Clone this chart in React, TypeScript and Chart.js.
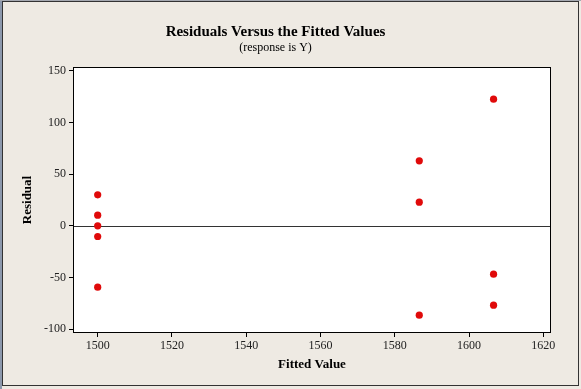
import React, { useEffect, useRef } from "react";
import { Chart, registerables } from "chart.js";

Chart.register(...registerables);

const fittedValues = [1500, 1500, 1500, 1500, 1500, 1586.6, 1586.6, 1586.6, 1606.6, 1606.6, 1606.6];
const residuals = [30, 10.3, 0, -10.3, -59.3, 62.9, 22.9, -86.4, 122.5, -46.7, -76.7];
const xTicks = [1500, 1520, 1540, 1560, 1580, 1600, 1620];
const yTicks = [-100, -50, 0, 50, 100, 150];
const xRange = [1493.35, 1622.07];
const yRange = [-103.6, 153.6];
const referenceValue = 0;

const titleText = "Residuals Versus the Fitted Values";
const subtitleText = "(response is Y)";
const xTitle = "Fitted Value";
const yTitle = "Residual";

const BG = "#EEEAE3";
const SERIF = "'Liberation Serif', 'Times New Roman', serif";

const framePlugin = {
  id: "frame",
  beforeDraw(chart: any) {
    const { ctx, width, height, chartArea } = chart;
    ctx.save();
    ctx.fillStyle = BG;
    ctx.fillRect(0, 0, width, height);
    ctx.fillStyle = "#8C98AC";
    ctx.fillRect(0, 0, 2, height);
    ctx.fillStyle = "#A4A8B0";
    ctx.fillRect(0, 0, width, 1);
    ctx.strokeStyle = "#333333";
    ctx.lineWidth = 1;
    ctx.strokeRect(2.5, 1.5, width - 5, height - 5);
    ctx.fillStyle = "#FFFFFF";
    ctx.fillRect(chartArea.left, chartArea.top, chartArea.right - chartArea.left, chartArea.bottom - chartArea.top);
    ctx.restore();
  },
  beforeDatasetsDraw(chart: any) {
    const { ctx, chartArea, scales } = chart;
    const y = Math.round(scales.y.getPixelForValue(referenceValue)) + 0.5;
    ctx.save();
    ctx.strokeStyle = "#333333";
    ctx.lineWidth = 1;
    ctx.beginPath();
    ctx.moveTo(chartArea.left, y);
    ctx.lineTo(chartArea.right, y);
    ctx.stroke();
    ctx.strokeStyle = "#000000";
    ctx.strokeRect(
      Math.round(chartArea.left) + 0.5,
      Math.round(chartArea.top) + 0.5,
      Math.round(chartArea.right - chartArea.left) - 1,
      Math.round(chartArea.bottom - chartArea.top) - 1
    );
    ctx.restore();
  },
};

const plainLabel = (v: any) => String(v);

export default function App() {
  const ref = useRef<HTMLCanvasElement | null>(null);

  useEffect(() => {
    document.body.style.margin = "0";
    const canvas = ref.current;
    if (!canvas) return;
    const chart = new Chart(canvas, {
      type: "scatter",
      data: {
        datasets: [
          {
            data: fittedValues.map((x, i) => ({ x, y: residuals[i] })),
            backgroundColor: "#E00A0A",
            borderColor: "#E00A0A",
            pointRadius: 3.6,
            borderWidth: 0,
          },
        ],
      },
      options: {
        responsive: false,
        animation: false,
        devicePixelRatio: 1,
        layout: { padding: { left: 0, right: 30, top: 0, bottom: 0 } },
        plugins: {
          legend: { display: false },
          tooltip: { enabled: false },
          title: {
            display: true,
            text: titleText,
            color: "#000",
            font: { family: SERIF, size: 15, weight: "bold" },
            padding: { top: 23, bottom: 0 },
          },
          subtitle: {
            display: true,
            text: subtitleText,
            color: "#000",
            font: { family: SERIF, size: 12 },
            padding: { top: 0, bottom: 11.6 },
          },
        },
        scales: {
          x: {
            type: "linear",
            min: xRange[0],
            max: xRange[1],
            afterFit(scale: any) {
              scale.height = 56;
            },
            afterBuildTicks(scale: any) {
              scale.ticks = xTicks.map((v) => ({ value: v }));
            },
            ticks: {
              color: "#222",
              font: { family: SERIF, size: 12 },
              padding: 2,
              maxRotation: 0,
              autoSkip: false,
              callback: plainLabel,
            },
            grid: { drawOnChartArea: false, drawTicks: true, tickLength: 4, color: "#000" },
            border: { display: false },
            title: {
              display: true,
              text: xTitle,
              color: "#000",
              font: { family: SERIF, size: 13, weight: "bold" },
              padding: 17,
            },
          },
          y: {
            type: "linear",
            min: yRange[0],
            max: yRange[1],
            afterFit(scale: any) {
              scale.width = 73;
            },
            afterBuildTicks(scale: any) {
              scale.ticks = yTicks.map((v) => ({ value: v }));
            },
            ticks: {
              color: "#222",
              font: { family: SERIF, size: 12 },
              padding: 3,
              autoSkip: false,
              callback: plainLabel,
            },
            grid: { drawOnChartArea: false, drawTicks: true, tickLength: 4, color: "#000" },
            border: { display: false },
            title: {
              display: true,
              text: yTitle,
              color: "#000",
              font: { family: SERIF, size: 13, weight: "bold" },
              padding: 20,
            },
          },
        },
      },
      plugins: [framePlugin],
    });
    return () => chart.destroy();
  }, []);

  return <canvas ref={ref} width={581} height={389} style={{ display: "block" }} />;
}
